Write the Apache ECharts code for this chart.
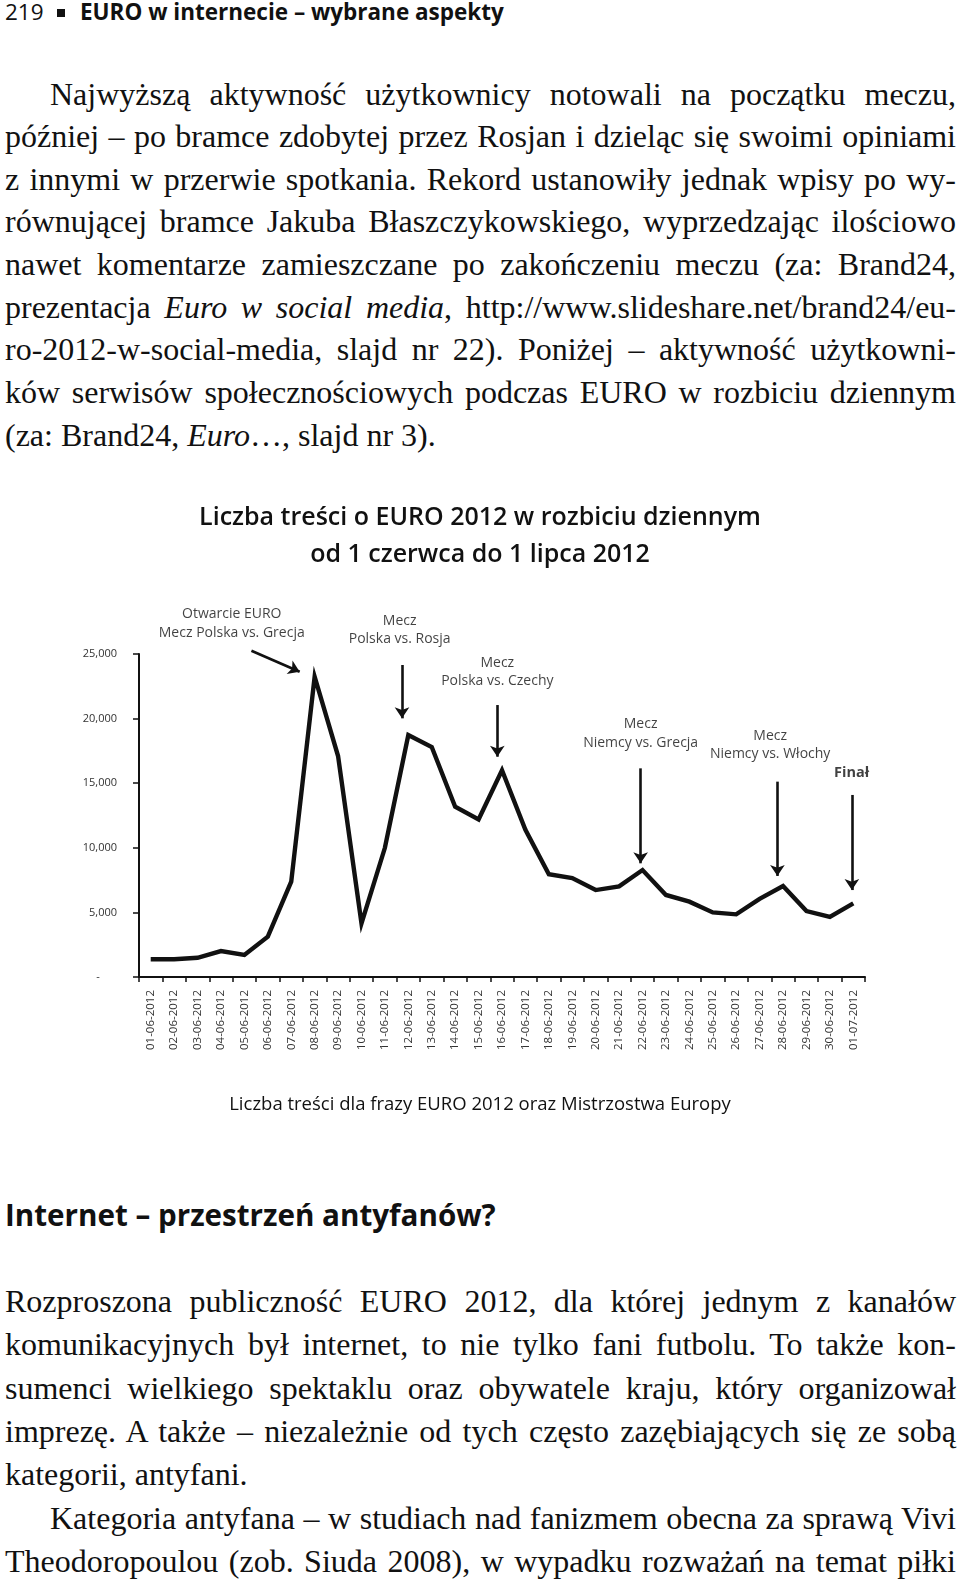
<!DOCTYPE html>
<html lang="pl">
<head>
<meta charset="utf-8">
<script src="https://cdn.jsdelivr.net/npm/echarts@6/dist/echarts.min.js"></script>
<style>
  html, body { margin: 0; padding: 0; background: #fff; }
  #page { position: relative; width: 960px; height: 1582px; overflow: hidden; background: #fff; color: #111; }
  .hdr { position: absolute; top: -1px; font-family: "Open Sans", sans-serif; font-size: 22.5px; line-height: 26px; white-space: nowrap; }
  .bul { position: absolute; left: 57px; top: 9px; width: 8px; height: 8px; background: #111; }
  .ln { position: absolute; left: 5px; width: 951px; font-family: "Liberation Serif", "DejaVu Serif", serif; font-size: 32px; line-height: 43px; white-space: nowrap; }
  .j { text-align: justify; text-align-last: justify; white-space: normal; }
  .ind { left: 50px; width: 906px; }
  .h2 { position: absolute; left: 5px; font-family: "Open Sans", sans-serif; font-weight: 700; font-size: 29.6px; line-height: 36px; white-space: nowrap; }
  #chart { position: absolute; left: 0; top: 480px; width: 960px; height: 650px; }
</style>
</head>
<body>
<div id="page">
  <div class="hdr" style="left:5px">219</div>
  <div class="bul"></div>
  <div class="hdr" style="left:80px;font-weight:700">EURO w internecie – wybrane aspekty</div>

  <div class="ln j ind" style="top:73px">Najwyższą aktywność użytkownicy notowali na początku meczu,</div>
  <div class="ln j" style="top:115px">później – po bramce zdobytej przez Rosjan i dzieląc się swoimi opiniami</div>
  <div class="ln j" style="top:158px">z innymi w przerwie spotkania. Rekord ustanowiły jednak wpisy po wy-</div>
  <div class="ln j" style="top:200px">równującej bramce Jakuba Błaszczykowskiego, wyprzedzając ilościowo</div>
  <div class="ln j" style="top:243px">nawet komentarze zamieszczane po zakończeniu meczu (za: Brand24,</div>
  <div class="ln j" style="top:286px">prezentacja <i>Euro w social media</i>, http://www.slideshare.net/brand24/eu-</div>
  <div class="ln j" style="top:328px">ro-2012-w-social-media, slajd nr 22). Poniżej – aktywność użytkowni-</div>
  <div class="ln j" style="top:371px">ków serwisów społecznościowych podczas EURO w rozbiciu dziennym</div>
  <div class="ln" style="top:414px">(za: Brand24, <i>Euro</i>…, slajd nr 3).</div>

  <div id="chart"></div>

  <div class="h2" style="top:1197px">Internet – przestrzeń antyfanów?</div>

  <div class="ln j" style="top:1280px">Rozproszona publiczność EURO 2012, dla której jednym z kanałów</div>
  <div class="ln j" style="top:1323px">komunikacyjnych był internet, to nie tylko fani futbolu. To także kon-</div>
  <div class="ln j" style="top:1367px">sumenci wielkiego spektaklu oraz obywatele kraju, który organizował</div>
  <div class="ln j" style="top:1410px">imprezę. A także – niezależnie od tych często zazębiających się ze sobą</div>
  <div class="ln" style="top:1453px">kategorii, antyfani.</div>
  <div class="ln j ind" style="top:1497px">Kategoria antyfana – w studiach nad fanizmem obecna za sprawą Vivi</div>
  <div class="ln j" style="top:1540px">Theodoropoulou (zob. Siuda 2008), w wypadku rozważań na temat piłki</div>
</div>

<script>
// ---- data ----
const categories = [
  '01-06-2012','02-06-2012','03-06-2012','04-06-2012','05-06-2012','06-06-2012','07-06-2012',
  '08-06-2012','09-06-2012','10-06-2012','11-06-2012','12-06-2012','13-06-2012','14-06-2012',
  '15-06-2012','16-06-2012','17-06-2012','18-06-2012','19-06-2012','20-06-2012','21-06-2012',
  '22-06-2012','23-06-2012','24-06-2012','25-06-2012','26-06-2012','27-06-2012','28-06-2012',
  '29-06-2012','30-06-2012','01-07-2012'
];
const counts = [
  1370, 1370, 1490, 2010, 1700, 3120, 7380,
  23240, 17100, 4150, 10000, 18730, 17800, 13180,
  12200, 16000, 11400, 7950, 7650, 6730, 7020,
  8280, 6350, 5830, 5000, 4850, 6050, 7040,
  5100, 4650, 5700
];
const yTickValues = [0, 5000, 10000, 15000, 20000, 25000];
const titleLines = ['Liczba treści o EURO 2012 w rozbiciu dziennym', 'od 1 czerwca do 1 lipca 2012'];
const chartCaption = 'Liczba treści dla frazy EURO 2012 oraz Mistrzostwa Europy';
// annotation texts, anchored in data space (x = category index, y = count)
const annotationTexts = [
  'Otwarcie EURO\nMecz Polska vs. Grecja',
  'Mecz\nPolska vs. Rosja',
  'Mecz\nPolska vs. Czechy',
  'Mecz\nNiemcy vs. Grecja',
  'Mecz\nNiemcy vs. Włochy',
  '{b|Finał}'
];
const annotationAnchors = [
  [3.46, 27360], [10.63, 26860], [14.80, 23610], [20.92, 18860], [26.45, 17970], [29.93, 15770]
];
// arrows: [from, to] in data space
const arrowFrom = [[4.30, 25255], [10.73, 24150], [14.80, 21050], [20.92, 16150], [26.76, 15120], [29.94, 14090]];
const arrowTo   = [[6.36, 23630], [10.73, 20020], [14.80, 17050], [20.92, 8800],  [26.76, 7820],  [29.94, 6730]];

// ---- chart ----
const chart = echarts.init(document.getElementById('chart'), null, { renderer: 'canvas' });
const fmt = v => v === 0 ? '-      ' : v.toString().replace(/\B(?=(\d{3})+(?!\d))/g, ',');

// main grid: 0..25000 over 323px; annotation grid: same scale extended to 30000 upward
const G = { left: 139, right: 95, top: 174, bottom: 153 };
const plotH = 650 - G.top - G.bottom;
const annTop = G.top - plotH * (5000 / 25000);

const option = {
  animation: false,
  backgroundColor: '#fff',
  title: [
    { text: titleLines[0], left: 'center', top: 17,
      textStyle: { fontFamily: 'Open Sans', fontWeight: 600, fontSize: 25, lineHeight: 32, color: '#111' } },
    { text: titleLines[1], left: 'center', top: 54,
      textStyle: { fontFamily: 'Open Sans', fontWeight: 600, fontSize: 25, lineHeight: 32, color: '#111' } },
    { text: chartCaption, left: 'center', top: 608,
      textStyle: { fontFamily: 'Open Sans', fontWeight: 'normal', fontSize: 18.5, lineHeight: 24, color: '#111' } }
  ],
  grid: [
    { left: G.left, right: G.right, top: G.top, bottom: G.bottom, containLabel: false },
    { left: G.left, right: G.right, top: annTop, bottom: G.bottom, containLabel: false }
  ],
  xAxis: [
    { type: 'category', data: categories, boundaryGap: true, gridIndex: 0,
      axisLine: { show: true, lineStyle: { color: '#111', width: 2 } },
      axisTick: { show: true, length: 5, lineStyle: { color: '#111', width: 1.5 } },
      axisLabel: { rotate: 90, interval: 0, fontFamily: 'Open Sans', fontSize: 11.5, color: '#333', margin: 13 },
      splitLine: { show: false } },
    { type: 'value', min: -0.5, max: 30.5, show: false, gridIndex: 1 }
  ],
  yAxis: [
    { type: 'value', min: 0, max: 25000, interval: 5000, gridIndex: 0,
      axisLine: { show: true, lineStyle: { color: '#111', width: 2 } },
      axisTick: { show: true, length: 6, lineStyle: { color: '#111', width: 1.5 } },
      axisLabel: { fontFamily: 'Open Sans', fontSize: 11, color: '#333', margin: 22, formatter: fmt },
      splitLine: { show: false } },
    { type: 'value', min: 0, max: 30000, show: false, gridIndex: 1 }
  ],
  series: [
    { type: 'line', name: 'Liczba treści', data: counts, xAxisIndex: 0, yAxisIndex: 0,
      symbol: 'none', smooth: false,
      lineStyle: { color: '#111', width: 4.4, join: 'miter' } },
    { type: 'scatter', name: 'adnotacje', xAxisIndex: 1, yAxisIndex: 1, clip: false,
      symbolSize: 1, itemStyle: { color: 'rgba(0,0,0,0)' }, silent: true,
      data: annotationTexts.map((t, i) => ({ value: annotationAnchors[i], name: t })),
      label: { show: true, position: 'inside', formatter: p => p.name,
        fontFamily: 'Open Sans', fontSize: 14, lineHeight: 18.5, color: '#111', align: 'center', verticalAlign: 'middle',
        rich: { b: { fontFamily: 'Open Sans', fontWeight: 700, fontSize: 14.5, color: '#111' } } },
      markLine: { silent: true, symbol: ['none', 'arrow'], symbolSize: 11,
        lineStyle: { color: '#111', width: 2.6, type: 'solid', opacity: 1 }, label: { show: false },
        emphasis: { disabled: true },
        data: arrowFrom.map((f, i) => [{ coord: f }, { coord: arrowTo[i] }]) } }
  ]
};
chart.setOption(option);
</script>
</body>
</html>
